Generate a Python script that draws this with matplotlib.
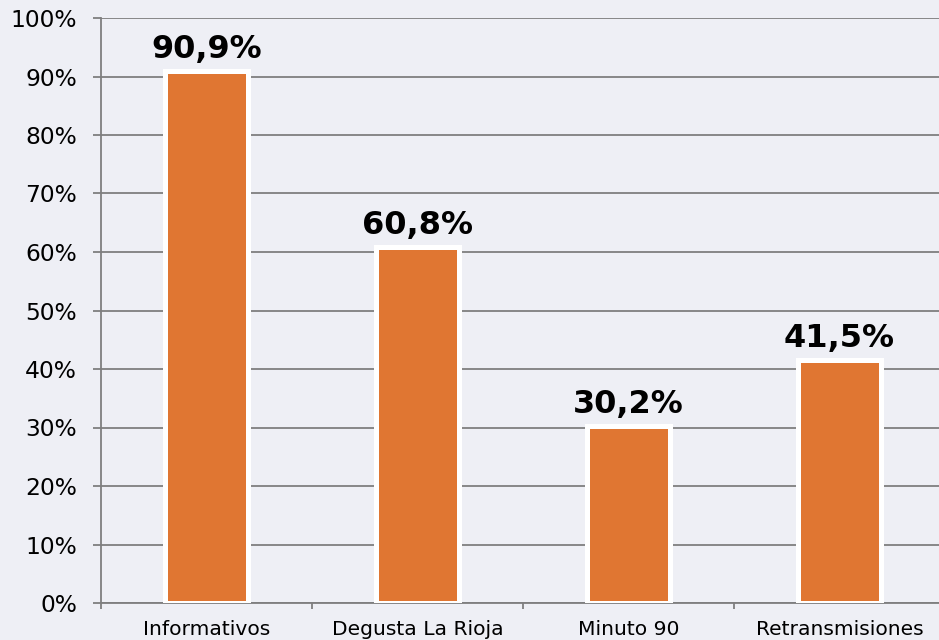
import numpy as np
import matplotlib.pyplot as plt
from matplotlib.ticker import FixedLocator

categories = ["Informativos", "Degusta La Rioja", "Minuto 90", "Retransmisiones"]
values = [90.9, 60.8, 30.2, 41.5]
value_labels = ["90,9%", "60,8%", "30,2%", "41,5%"]
y_ticks = list(range(0, 101, 10))

bg = "#EEEFF5"
bar_color = "#E07632"
grid_color = "#7F7F7F"

fig = plt.figure(figsize=(9.39, 6.4), dpi=100)
fig.patch.set_facecolor(bg)
# the plot area runs past the right edge, as in the original
ax = fig.add_axes([101 / 939, 37 / 640, 844 / 939, 585 / 640])
ax.set_facecolor(bg)

x = np.arange(len(categories))
ax.bar(x, values, width=0.393, color=bar_color, edgecolor="white",
       linewidth=3.6, zorder=3)

for xi, v, lab in zip(x, values, value_labels):
    ax.text(xi, v + 2.25, lab, ha="center", va="baseline", fontsize=23,
            fontweight="bold", color="black", zorder=4)

ax.set_xlim(-0.5, len(categories) - 0.5)
ax.set_ylim(0, 100)
ax.set_yticks(y_ticks)
ax.set_yticklabels([f"{t}%" for t in y_ticks])
ax.yaxis.grid(True, color=grid_color, linewidth=1.3, zorder=0)

ax.set_xticks(x)
ax.set_xticklabels(categories)
ax.xaxis.set_minor_locator(FixedLocator(np.arange(-0.5, len(categories), 1.0)))
ax.tick_params(axis="x", which="major", length=0, pad=12, labelsize=14.6)
ax.tick_params(axis="x", which="minor", length=4.3, width=1.3, color=grid_color)
ax.tick_params(axis="y", length=5.8, width=1.3, color=grid_color, labelsize=16.8,
               pad=11.5)

for side in ["top", "right"]:
    ax.spines[side].set_visible(False)
for side in ["left", "bottom"]:
    ax.spines[side].set_color(grid_color)
    ax.spines[side].set_linewidth(1.3)

fig.savefig("out.png", dpi=100, facecolor=bg)
